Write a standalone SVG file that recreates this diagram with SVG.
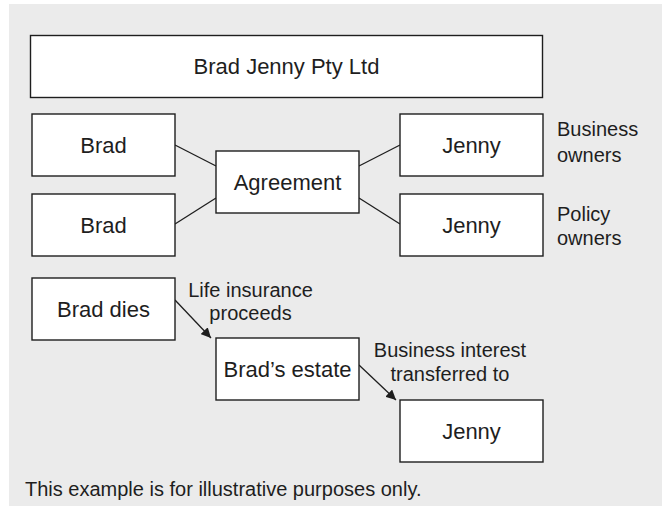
<svg xmlns="http://www.w3.org/2000/svg" width="662" height="513" viewBox="0 0 662 513">
<defs>
<style>
.box{fill:#ffffff;stroke:#1e1e1e;stroke-width:1.4}
.t{font-family:"Liberation Sans",Arial,sans-serif;font-size:22px;fill:#1e1e1e;text-anchor:middle}
.l{font-family:"Liberation Sans",Arial,sans-serif;font-size:20px;fill:#1e1e1e}
.c{stroke:#1e1e1e;stroke-width:1.3;fill:none}
</style>
<marker id="ah" viewBox="0 0 10 10" refX="10" refY="5" markerWidth="10" markerHeight="10" markerUnits="userSpaceOnUse" orient="auto">
<path d="M0,0 L10,5 L0,10 z" fill="#1e1e1e"/>
</marker>
</defs>
<rect x="0" y="0" width="662" height="513" fill="#ffffff"/>
<rect x="9" y="4" width="653" height="502" fill="#ebebeb"/>
<g id="connectors">
<line class="c" x1="175" y1="145" x2="216" y2="166"/>
<line class="c" x1="175" y1="224" x2="216" y2="198"/>
<line class="c" x1="400" y1="145" x2="359" y2="166"/>
<line class="c" x1="400" y1="224" x2="359" y2="198"/>
<line class="c" x1="175" y1="300" x2="211" y2="338" marker-end="url(#ah)"/>
<line class="c" x1="359" y1="365" x2="396" y2="400" marker-end="url(#ah)"/>
</g>
<g id="company"><rect class="box" x="30.5" y="35.5" width="512" height="62"/><text class="t" x="286.5" y="74">Brad Jenny Pty Ltd</text></g>
<g id="brad1"><rect class="box" x="32" y="114" width="143" height="62"/><text class="t" x="103.5" y="152.5">Brad</text></g>
<g id="brad2"><rect class="box" x="32" y="194" width="143" height="62"/><text class="t" x="103.5" y="232.5">Brad</text></g>
<g id="agreement"><rect class="box" x="216" y="151" width="143" height="62"/><text class="t" x="287.5" y="189.5">Agreement</text></g>
<g id="jenny1"><rect class="box" x="400" y="114" width="143" height="62"/><text class="t" x="471.5" y="152.5">Jenny</text></g>
<g id="jenny2"><rect class="box" x="400" y="194" width="143" height="62"/><text class="t" x="471.5" y="232.5">Jenny</text></g>
<g id="label-business-owners"><text class="l" x="557" y="136">Business</text><text class="l" x="557" y="162">owners</text></g>
<g id="label-policy-owners"><text class="l" x="557" y="221">Policy</text><text class="l" x="557" y="245">owners</text></g>
<g id="brad-dies"><rect class="box" x="32" y="278" width="143" height="62"/><text class="t" x="103.5" y="316.5">Brad dies</text></g>
<g id="brads-estate"><rect class="box" x="216" y="338" width="143" height="62"/><text class="t" x="287.5" y="376.5">Brad’s estate</text></g>
<g id="jenny3"><rect class="box" x="400" y="400" width="143" height="62"/><text class="t" x="471.5" y="438.5">Jenny</text></g>
<g id="label-life"><text class="l" x="250.5" y="297" text-anchor="middle">Life insurance</text><text class="l" x="250.5" y="320" text-anchor="middle">proceeds</text></g>
<g id="label-transfer"><text class="l" x="450" y="357" text-anchor="middle">Business interest</text><text class="l" x="450" y="381" text-anchor="middle">transferred to</text></g>
<g id="footer"><text class="l" x="25" y="496">This example is for illustrative purposes only.</text></g>
</svg>
